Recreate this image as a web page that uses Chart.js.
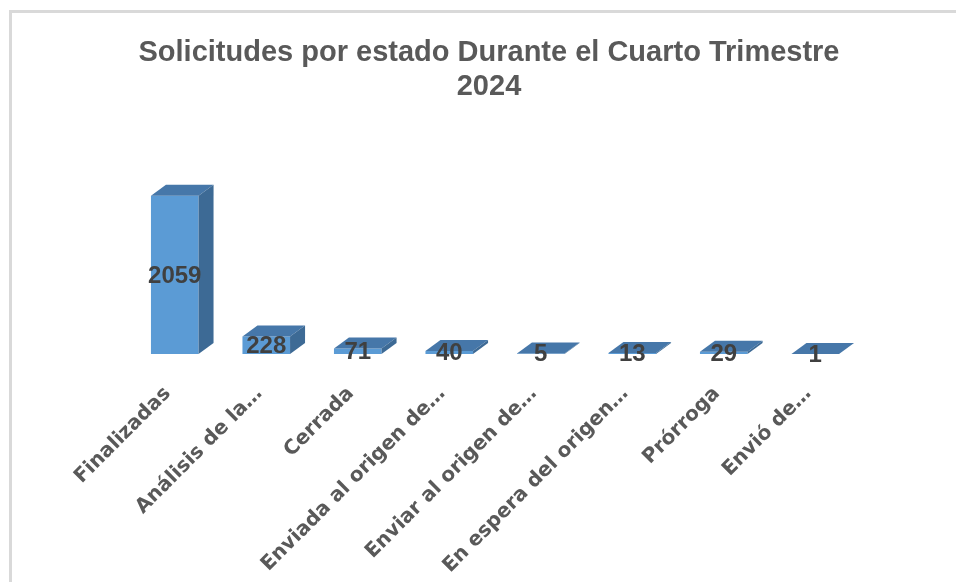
<!DOCTYPE html>
<html>
<head>
<meta charset="utf-8">
<script src="https://cdn.jsdelivr.net/npm/chart.js@4.4.1/dist/chart.umd.min.js"></script>
<style>
  html, body { margin: 0; padding: 0; background: #fff; overflow: hidden; }
  #frame {
    position: absolute; left: 9px; top: 10px;
    width: 1000px; height: 700px;
    border-left: 3px solid #d9d9d9; border-top: 3px solid #d9d9d9;
  }
  #wrap { position: absolute; left: 0; top: 0; width: 956px; height: 582px; }
</style>
</head>
<body>
<div id="frame"></div>
<div id="wrap"><canvas id="chart"></canvas></div>
<script>
// data
const estados = [
  'Finalizadas',
  'Análisis de la…',
  'Cerrada',
  'Enviada al origen de…',
  'Enviar al origen de…',
  'En espera del origen…',
  'Prórroga',
  'Envió de…'
];
const solicitudes = [2059, 228, 71, 40, 5, 13, 29, 1];
const tituloLineas = ['Solicitudes por estado Durante el Cuarto Trimestre', '2024'];

// fake 3D: top and side faces + value labels
const bars3d = {
  id: 'bars3d',
  afterDatasetsDraw(chart) {
    const ctx = chart.ctx;
    const dx = 15, dy = -11;
    const meta = chart.getDatasetMeta(0);
    ctx.save();
    meta.data.forEach(bar => {
      const l = bar.x - bar.width / 2, r = bar.x + bar.width / 2;
      const t = bar.y, b = bar.base;
      // top
      ctx.fillStyle = '#4677a9';
      ctx.beginPath();
      ctx.moveTo(l, t);
      ctx.lineTo(l + dx, t + dy);
      ctx.lineTo(r + dx, t + dy);
      ctx.lineTo(r, t);
      ctx.closePath();
      ctx.fill();
      // side
      ctx.fillStyle = '#3d6a95';
      ctx.beginPath();
      ctx.moveTo(r, t);
      ctx.lineTo(r + dx, t + dy);
      ctx.lineTo(r + dx, b + dy);
      ctx.lineTo(r, b);
      ctx.closePath();
      ctx.fill();
    });
    // values
    ctx.fillStyle = '#404040';
    ctx.font = 'bold 24px "Liberation Sans"';
    ctx.textAlign = 'center';
    ctx.textBaseline = 'middle';
    meta.data.forEach((bar, i) => {
      ctx.fillText(String(solicitudes[i]), bar.x, (bar.y + bar.base) / 2 + 1);
    });
    ctx.restore();
  }
};

const ctx = document.getElementById('chart').getContext('2d');
new Chart(ctx, {
  type: 'bar',
  data: {
    labels: estados,
    datasets: [{
      data: solicitudes,
      backgroundColor: '#5b9bd5',
      borderWidth: 0,
      barPercentage: 0.52,
      categoryPercentage: 1
    }]
  },
  options: {
    responsive: true,
    maintainAspectRatio: false,
    animation: false,
    layout: { padding: { left: 117, right: 95, top: 0, bottom: 0 } },
    plugins: {
      legend: { display: false },
      tooltip: { enabled: false },
      title: {
        display: true,
        text: tituloLineas,
        color: '#595959',
        font: { family: 'Liberation Sans', size: 29, weight: 'bold', lineHeight: 1.17 },
        padding: { top: 36, bottom: 58 }
      }
    },
    scales: {
      x: {
        grid: { display: false, drawTicks: false },
        border: { display: false },
        ticks: {
          autoSkip: false,
          minRotation: 45,
          maxRotation: 45,
          padding: 28,
          labelOffset: -7,
          color: '#595959',
          font: { family: 'DejaVu Sans', size: 20, weight: 'bold' }
        },
        afterFit(scale) { scale.height = 228; }
      },
      y: {
        min: 0,
        max: 2500,
        grid: { display: false, drawTicks: false },
        border: { display: false },
        ticks: { display: false },
        afterFit(scale) { scale.width = 12; }
      }
    }
  },
  plugins: [bars3d]
});
</script>
</body>
</html>
